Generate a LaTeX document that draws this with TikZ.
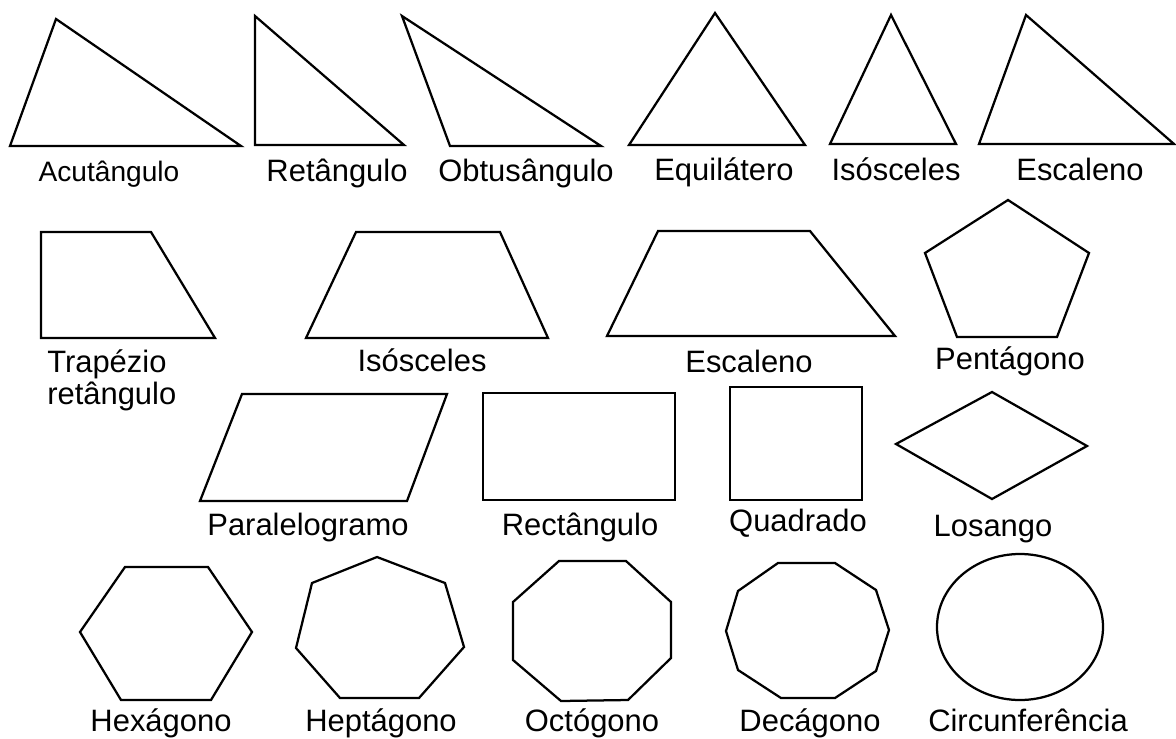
\documentclass[tikz,border=0pt]{standalone}
\usepackage{fontspec}
\setmainfont{Liberation Sans}
\tikzset{
  forma/.style={line width=1.6pt, line join=miter},
  rotulo/.style={anchor=base, inner sep=0pt, font=\fontsize{22}{26}\selectfont},
}

\begin{document}
\begin{tikzpicture}[x=0.025cm, y=-0.025cm]
  \useasboundingbox (0,0) rectangle (1176,738);

  % triangulos
  \draw[forma] (10,146) -- (241,146) -- (56,19) -- cycle;
  \draw[forma] (255,145) -- (404,145) -- (255,16) -- cycle;
  \draw[forma] (450,146) -- (601,146) -- (402,16) -- cycle;
  \draw[forma] (629,145) -- (805,145) -- (715,13) -- cycle;
  \draw[forma] (830,144) -- (956,144) -- (891,15) -- cycle;
  \draw[forma] (979,144) -- (1174,144) -- (1026,15) -- cycle;

  % trapezios e pentagono
  \draw[forma] (41,232) -- (151,232) -- (215,338) -- (41,338) -- cycle;
  \draw[forma] (356,232) -- (500,232) -- (548,338) -- (306,338) -- cycle;
  \draw[forma] (658,231) -- (810,231) -- (895,336) -- (607,336) -- cycle;
  \draw[forma] (1008,200) -- (1089,253) -- (1057,337) -- (957,337) -- (925,253) -- cycle;

  % quadrilateros
  \draw[forma] (242,394) -- (447,394) -- (407,501) -- (200,501) -- cycle;
  \draw[forma] (483,393) rectangle (675,500);
  \draw[forma] (730,387) rectangle (862,500);
  \draw[forma] (992,392) -- (1087,446) -- (992,499) -- (896,444) -- cycle;

  % poligonos e circunferencia
  \draw[forma] (125,567) -- (208,567) -- (252,632) -- (211,700) -- (121,700) -- (80,632) -- cycle;
  \draw[forma] (377,557) -- (445,583) -- (464,647) -- (419,698) -- (340,698) -- (296,648) -- (312,583) -- cycle;
  \draw[forma] (559,561) -- (626,561) -- (671,602) -- (671,658) -- (628,700) -- (561,701) -- (513,660) -- (513,602) -- cycle;
  \draw[forma] (778,563) -- (835,563) -- (876,590) -- (889,630) -- (876,671) -- (835,698) -- (781,698) -- (738,670) -- (726,631) -- (738,591) -- cycle;
  \draw[forma] (1020,627) ellipse [x radius=83, y radius=73];

  % rotulos
  \node[rotulo, font=\fontsize{20}{24}\selectfont] (acut) at (109,181) {Acutângulo};
  \foreach \x/\y/\n/\t in {337/181/ret/Retângulo, 526/181/obt/Obtusângulo,
      724/180/equi/Equilátero, 896/180/isotri/Isósceles, 1080/180/esctri/Escaleno,
      422/371/isotrap/Isósceles, 749/372/esctrap/Escaleno, 1010/369/pent/Pentágono,
      308/535/para/Paralelogramo, 580/535/rect/Rectângulo, 798/531/quad/Quadrado,
      993/536/los/Losango, 161/731/hex/Hexágono, 381/731/hept/Heptágono,
      592/731/oct/Octógono, 810/731/dec/Decágono, 1028/731/circ/Circunferência}
    \node[rotulo] (\n) at (\x,\y) {\t};
  \node[rotulo, anchor=north west, align=left, font=\fontsize{22}{23}\selectfont] (trapret) at (47,349) {Trapézio\\retângulo};
\end{tikzpicture}
\end{document}
